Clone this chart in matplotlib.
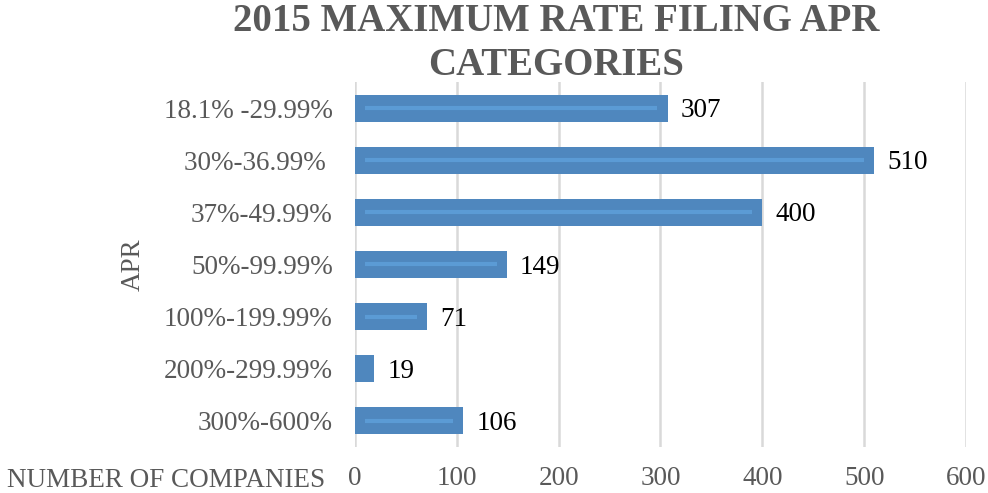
import matplotlib.pyplot as plt

# data (top to bottom as shown)
categories = ["18.1% -29.99%", "30%-36.99% ", "37%-49.99%", "50%-99.99%",
              "100%-199.99%", "200%-299.99%", "300%-600%"]
companies = [307, 510, 400, 149, 71, 19, 106]
x_ticks = [0, 100, 200, 300, 400, 500, 600]

BAR_COLOR = "#4F87BE"
SHINE_COLOR = "#5B9BD5"
GRAY = "#595959"
FS = 19.5

plt.rcParams['font.family'] = ['Liberation Serif', 'DejaVu Serif']

fig = plt.figure(figsize=(9.88, 4.93), dpi=100)
ax = fig.add_axes([0.3593, 0.0933, 0.6184, 0.7404])

ypos = list(range(len(categories)))[::-1]
ax.barh(ypos, companies, height=0.52, color=BAR_COLOR, zorder=3)
# subtle lighter streak inside each bar
for y, v in zip(ypos, companies):
    if v > 25:
        ax.plot([10, v - 10], [y, y], color=SHINE_COLOR, lw=3, zorder=4,
                solid_capstyle='butt')
    ax.text(v + 13, y - 0.05, f"{v}", ha='left', va='center',
            fontsize=FS, color='black')

ax.set_xlim(0, 600)
ax.set_ylim(-0.5, len(categories) - 0.5)
ax.set_xticks(x_ticks)
ax.set_xticklabels([str(t) for t in x_ticks], fontsize=FS, color=GRAY)
ax.set_yticks(ypos)
ax.set_yticklabels(categories, fontsize=FS, color=GRAY)
ax.tick_params(length=0, pad=16)
ax.tick_params(axis='x', pad=14)
ax.grid(axis='x', color='#D9D9D9', lw=1.8, zorder=0)
for s in ax.spines.values():
    s.set_visible(False)

ax.set_ylabel("APR", fontsize=FS, color=GRAY)
ax.yaxis.set_label_coords(-0.343, 0.5)
fig.text(0.329, 0.026, "NUMBER OF COMPANIES", ha='right', va='center',
         fontsize=FS, color=GRAY)

fig.text(0.563, 0.912, "2015 MAXIMUM RATE FILING APR\nCATEGORIES",
         ha='center', va='center', fontsize=28, fontweight='bold',
         color=GRAY, linespacing=1.25)

fig.savefig("out.png", dpi=100)
